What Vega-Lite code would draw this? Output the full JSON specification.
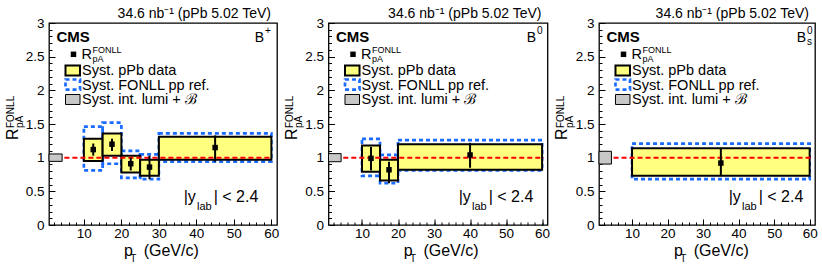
{
"$schema": "https://vega.github.io/schema/vega-lite/v6.json",
"padding": {"left": 3, "top": 6, "right": 0, "bottom": 0},
"bounds": "flush",
"spacing": 51.5,
"config": {
  "font": "Liberation Sans",
  "view": {"stroke": "black", "strokeWidth": 1.3},
  "axis": {"domain": false, "grid": false, "tickColor": "black", "tickWidth": 1, "labelColor": "black", "labelFont": "Liberation Sans", "labelFontSize": 13.5, "labelFlush": false, "labelOverlap": false},
  "text": {"align": "left", "baseline": "alphabetic", "color": "black", "fontSize": 14.5},
  "title": {"font": "Liberation Sans", "fontSize": 14, "fontWeight": "normal", "color": "black", "anchor": "end", "frame": "group", "baseline": "alphabetic", "dx": -6}
},
"datasets": {
  "bp": [
    {"lo": 10, "hi": 15, "x": 12.5, "y": 1.12, "elo": 1.03, "ehi": 1.21, "slo": 0.95, "shi": 1.28, "flo": 0.81, "fhi": 1.46},
    {"lo": 15, "hi": 20, "x": 17.5, "y": 1.20, "elo": 1.10, "ehi": 1.28, "slo": 1.03, "shi": 1.36, "flo": 0.91, "fhi": 1.52},
    {"lo": 20, "hi": 25, "x": 22.5, "y": 0.91, "elo": 0.81, "ehi": 1.00, "slo": 0.78, "shi": 1.03, "flo": 0.70, "fhi": 1.10},
    {"lo": 25, "hi": 30, "x": 27.5, "y": 0.86, "elo": 0.68, "ehi": 1.03, "slo": 0.73, "shi": 0.97, "flo": 0.68, "fhi": 1.05},
    {"lo": 30, "hi": 60, "x": 45, "y": 1.15, "elo": 0.94, "ehi": 1.33, "slo": 0.97, "shi": 1.31, "flo": 0.94, "fhi": 1.36}
  ],
  "b0": [
    {"lo": 10, "hi": 15, "x": 12.5, "y": 0.99, "elo": 0.81, "ehi": 1.16, "slo": 0.79, "shi": 1.18, "flo": 0.73, "fhi": 1.28},
    {"lo": 15, "hi": 20, "x": 17.5, "y": 0.82, "elo": 0.62, "ehi": 0.94, "slo": 0.66, "shi": 0.97, "flo": 0.62, "fhi": 1.04},
    {"lo": 20, "hi": 60, "x": 40, "y": 1.04, "elo": 0.85, "ehi": 1.22, "slo": 0.82, "shi": 1.20, "flo": 0.81, "fhi": 1.26}
  ],
  "bs": [
    {"lo": 10, "hi": 60, "x": 35, "y": 0.92, "elo": 0.73, "ehi": 1.14, "slo": 0.73, "shi": 1.14, "flo": 0.68, "fhi": 1.21}
  ],
  "lumi1": [{"lo": 0.7, "hi": 4.2, "ylo": 0.945, "yhi": 1.055}],
  "lumi2": [{"lo": 0.7, "hi": 4.2, "ylo": 0.94, "yhi": 1.06}],
  "lumi3": [{"lo": 0.7, "hi": 4.2, "ylo": 0.905, "yhi": 1.095}]
},
"hconcat": [
{
  "width": 228, "height": 202,
  "title": {"text": "34.6 nb⁻¹ (pPb 5.02 TeV)", "offset": -5},
  "data": {"values": [{}]},
  "layer": [
    {"data": {"name": "bp"}, "mark": {"type": "rect", "filled": false, "color": "#1a6cff", "strokeWidth": 2.7, "strokeDash": [4, 3]},
     "encoding": {
       "x": {"field": "lo", "type": "quantitative", "scale": {"domain": [0.7, 61.5], "nice": false},
             "axis": {"orient": "bottom", "title": null, "values": [10,20,30,40,50,60], "format": "d", "tickSize": -6, "labelPadding": 7}},
       "x2": {"field": "hi"},
       "y": {"field": "flo", "type": "quantitative", "scale": {"domain": [0, 3], "nice": false},
             "axis": {"orient": "left", "title": null, "values": [0,0.5,1,1.5,2,2.5,3], "format": "~g", "tickSize": -6, "labelPadding": 11}},
       "y2": {"field": "fhi"}}},
    {"data": {"name": "bp"}, "mark": {"type": "rect", "fill": "#ffff80", "stroke": "black", "strokeWidth": 2},
     "encoding": {
       "x": {"field": "lo", "type": "quantitative", "scale": {"domain": [0.7, 61.5], "nice": false},
             "axis": {"orient": "top", "offset": -202, "title": null, "labels": false, "values": [2,4,6,8,10,12,14,16,18,20,22,24,26,28,30,32,34,36,38,40,42,44,46,48,50,52,54,56,58,60], "tickSize": 3}},
       "x2": {"field": "hi"},
       "y": {"field": "slo", "type": "quantitative", "scale": {"domain": [0, 3], "nice": false},
             "axis": {"orient": "right", "offset": -228, "title": null, "labels": false, "values": [0,0.1,0.2,0.3,0.4,0.5,0.6,0.7,0.8,0.9,1,1.1,1.2,1.3,1.4,1.5,1.6,1.7,1.8,1.9,2,2.1,2.2,2.3,2.4,2.5,2.6,2.7,2.8,2.9,3], "tickSize": 3}},
       "y2": {"field": "shi"}}},
    {"data": {"name": "lumi1"}, "mark": {"type": "rect", "fill": "#c8c8c8", "stroke": "black", "strokeWidth": 1},
     "encoding": {"x": {"field": "lo", "type": "quantitative", "scale": {"domain": [0.7, 61.5], "nice": false}, "axis": null}, "x2": {"field": "hi"}, "y": {"field": "ylo", "type": "quantitative", "scale": {"domain": [0, 3], "nice": false}, "axis": null}, "y2": {"field": "yhi"}}},
    {"mark": {"type": "rule", "color": "#ff0000", "strokeWidth": 2, "strokeDash": [5, 3]},
     "encoding": {"x": {"datum": 4.8, "scale": {"domain": [0.7, 61.5], "nice": false}, "axis": null}, "x2": {"datum": 60.2}, "y": {"datum": 1, "scale": {"domain": [0, 3], "nice": false}, "axis": null}}},
    {"data": {"name": "bp"}, "mark": {"type": "rule", "color": "black", "strokeWidth": 2},
     "encoding": {"x": {"field": "x", "type": "quantitative", "scale": {"domain": [0.7, 61.5], "nice": false}, "axis": null}, "y": {"field": "elo", "type": "quantitative", "scale": {"domain": [0, 3], "nice": false}, "axis": null}, "y2": {"field": "ehi"}}},
    {"data": {"name": "bp"}, "mark": {"type": "point", "shape": "square", "filled": true, "color": "black", "size": 30, "opacity": 1},
     "encoding": {"x": {"field": "x", "type": "quantitative", "scale": {"domain": [0.7, 61.5], "nice": false}, "axis": null}, "y": {"field": "y", "type": "quantitative", "scale": {"domain": [0, 3], "nice": false}, "axis": null}}},
    {"mark": {"type": "text", "text": "CMS", "fontSize": 15, "fontWeight": "bold"}, "encoding": {"x": {"datum": 2.70, "axis": null}, "y": {"datum": 2.718, "axis": null}}},
    {"mark": {"type": "text", "text": "B", "align": "right", "fontSize": 14}, "encoding": {"x": {"datum": 58.03, "axis": null}, "y": {"datum": 2.722, "axis": null}}},
    {"mark": {"type": "text", "text": "+", "fontSize": 10}, "encoding": {"x": {"datum": 58.30, "axis": null}, "y": {"datum": 2.837, "axis": null}}},
    {"mark": {"type": "point", "shape": "square", "filled": true, "color": "black", "size": 30, "opacity": 1}, "encoding": {"x": {"datum": 7.23, "axis": null}, "y": {"datum": 2.535, "axis": null}}},
    {"mark": {"type": "text", "text": "R"}, "encoding": {"x": {"datum": 9.37, "axis": null}, "y": {"datum": 2.468, "axis": null}}},
    {"mark": {"type": "text", "text": "FONLL", "fontSize": 9}, "encoding": {"x": {"datum": 12.30, "axis": null}, "y": {"datum": 2.557, "axis": null}}},
    {"mark": {"type": "text", "text": "pA", "fontSize": 9}, "encoding": {"x": {"datum": 12.30, "axis": null}, "y": {"datum": 2.425, "axis": null}}},
    {"mark": {"type": "rect", "fill": "#ffff80", "stroke": "black", "strokeWidth": 2}, "encoding": {"x": {"datum": 5.10, "axis": null}, "x2": {"datum": 8.97}, "y": {"datum": 2.369, "axis": null}, "y2": {"datum": 2.220}}},
    {"mark": {"type": "rect", "filled": false, "color": "#1a6cff", "strokeWidth": 2.7, "strokeDash": [4, 3]}, "encoding": {"x": {"datum": 5.10, "axis": null}, "x2": {"datum": 8.97}, "y": {"datum": 2.161, "axis": null}, "y2": {"datum": 2.012}}},
    {"mark": {"type": "rect", "fill": "#c8c8c8", "stroke": "black", "strokeWidth": 1}, "encoding": {"x": {"datum": 5.10, "axis": null}, "x2": {"datum": 8.97}, "y": {"datum": 1.938, "axis": null}, "y2": {"datum": 1.790}}},
    {"mark": {"type": "text", "text": "Syst. pPb data"}, "encoding": {"x": {"datum": 9.50, "axis": null}, "y": {"datum": 2.228, "axis": null}}},
    {"mark": {"type": "text", "text": "Syst. FONLL pp ref."}, "encoding": {"x": {"datum": 9.50, "axis": null}, "y": {"datum": 2.012, "axis": null}}},
    {"mark": {"type": "text", "text": "Syst. int. lumi + ℬ"}, "encoding": {"x": {"datum": 9.50, "axis": null}, "y": {"datum": 1.790, "axis": null}}},
    {"mark": {"type": "text", "text": "|y", "fontSize": 16}, "encoding": {"x": {"datum": 36.62, "axis": null}, "y": {"datum": 0.3416, "axis": null}}},
    {"mark": {"type": "text", "text": "lab", "fontSize": 11}, "encoding": {"x": {"datum": 40.17, "axis": null}, "y": {"datum": 0.230, "axis": null}}},
    {"mark": {"type": "text", "text": "| < 2.4", "fontSize": 16}, "encoding": {"x": {"datum": 44.62, "axis": null}, "y": {"datum": 0.3416, "axis": null}}},
    {"mark": {"type": "text", "text": "p", "fontSize": 16}, "encoding": {"x": {"datum": 20.70, "axis": null}, "y": {"datum": -0.460, "axis": null}}},
    {"mark": {"type": "text", "text": "T", "fontSize": 10}, "encoding": {"x": {"datum": 22.38, "axis": null}, "y": {"datum": -0.545, "axis": null}}},
    {"mark": {"type": "text", "text": "(GeV/c)", "fontSize": 16}, "encoding": {"x": {"datum": 25.95, "axis": null}, "y": {"datum": -0.460, "axis": null}}},
    {"mark": {"type": "text", "text": "R", "fontSize": 16, "angle": 270}, "encoding": {"x": {"datum": -7.70, "axis": null}, "y": {"datum": 1.262, "axis": null}}},
    {"mark": {"type": "text", "text": "pA", "fontSize": 10, "angle": 270}, "encoding": {"x": {"datum": -6.23, "axis": null}, "y": {"datum": 1.44, "axis": null}}},
    {"mark": {"type": "text", "text": "FONLL", "fontSize": 10, "angle": 270}, "encoding": {"x": {"datum": -8.63, "axis": null}, "y": {"datum": 1.44, "axis": null}}}
  ]
},
{
  "width": 219, "height": 202,
  "title": {"text": "34.6 nb⁻¹ (pPb 5.02 TeV)", "offset": -5},
  "data": {"values": [{}]},
  "layer": [
    {"data": {"name": "b0"}, "mark": {"type": "rect", "filled": false, "color": "#1a6cff", "strokeWidth": 2.7, "strokeDash": [4, 3]},
     "encoding": {
       "x": {"field": "lo", "type": "quantitative", "scale": {"domain": [0.7, 61.5], "nice": false},
             "axis": {"orient": "bottom", "title": null, "values": [10,20,30,40,50,60], "format": "d", "tickSize": -6, "labelPadding": 7}},
       "x2": {"field": "hi"},
       "y": {"field": "flo", "type": "quantitative", "scale": {"domain": [0, 3], "nice": false},
             "axis": {"orient": "left", "title": null, "values": [0,0.5,1,1.5,2,2.5,3], "format": "~g", "tickSize": -6, "labelPadding": 11}},
       "y2": {"field": "fhi"}}},
    {"data": {"name": "b0"}, "mark": {"type": "rect", "fill": "#ffff80", "stroke": "black", "strokeWidth": 2},
     "encoding": {
       "x": {"field": "lo", "type": "quantitative", "scale": {"domain": [0.7, 61.5], "nice": false},
             "axis": {"orient": "top", "offset": -202, "title": null, "labels": false, "values": [2,4,6,8,10,12,14,16,18,20,22,24,26,28,30,32,34,36,38,40,42,44,46,48,50,52,54,56,58,60], "tickSize": 3}},
       "x2": {"field": "hi"},
       "y": {"field": "slo", "type": "quantitative", "scale": {"domain": [0, 3], "nice": false},
             "axis": {"orient": "right", "offset": -219, "title": null, "labels": false, "values": [0,0.1,0.2,0.3,0.4,0.5,0.6,0.7,0.8,0.9,1,1.1,1.2,1.3,1.4,1.5,1.6,1.7,1.8,1.9,2,2.1,2.2,2.3,2.4,2.5,2.6,2.7,2.8,2.9,3], "tickSize": 3}},
       "y2": {"field": "shi"}}},
    {"data": {"name": "lumi2"}, "mark": {"type": "rect", "fill": "#c8c8c8", "stroke": "black", "strokeWidth": 1},
     "encoding": {"x": {"field": "lo", "type": "quantitative", "scale": {"domain": [0.7, 61.5], "nice": false}, "axis": null}, "x2": {"field": "hi"}, "y": {"field": "ylo", "type": "quantitative", "scale": {"domain": [0, 3], "nice": false}, "axis": null}, "y2": {"field": "yhi"}}},
    {"mark": {"type": "rule", "color": "#ff0000", "strokeWidth": 2, "strokeDash": [5, 3]},
     "encoding": {"x": {"datum": 4.8, "scale": {"domain": [0.7, 61.5], "nice": false}, "axis": null}, "x2": {"datum": 60.4}, "y": {"datum": 1, "scale": {"domain": [0, 3], "nice": false}, "axis": null}}},
    {"data": {"name": "b0"}, "mark": {"type": "rule", "color": "black", "strokeWidth": 2},
     "encoding": {"x": {"field": "x", "type": "quantitative", "scale": {"domain": [0.7, 61.5], "nice": false}, "axis": null}, "y": {"field": "elo", "type": "quantitative", "scale": {"domain": [0, 3], "nice": false}, "axis": null}, "y2": {"field": "ehi"}}},
    {"data": {"name": "b0"}, "mark": {"type": "point", "shape": "square", "filled": true, "color": "black", "size": 30, "opacity": 1},
     "encoding": {"x": {"field": "x", "type": "quantitative", "scale": {"domain": [0.7, 61.5], "nice": false}, "axis": null}, "y": {"field": "y", "type": "quantitative", "scale": {"domain": [0, 3], "nice": false}, "axis": null}}},
    {"mark": {"type": "text", "text": "CMS", "fontSize": 15, "fontWeight": "bold"}, "encoding": {"x": {"datum": 2.78, "axis": null}, "y": {"datum": 2.718, "axis": null}}},
    {"mark": {"type": "text", "text": "B", "align": "right", "fontSize": 14}, "encoding": {"x": {"datum": 58.31, "axis": null}, "y": {"datum": 2.722, "axis": null}}},
    {"mark": {"type": "text", "text": "0", "fontSize": 10}, "encoding": {"x": {"datum": 58.59, "axis": null}, "y": {"datum": 2.837, "axis": null}}},
    {"mark": {"type": "point", "shape": "square", "filled": true, "color": "black", "size": 30, "opacity": 1}, "encoding": {"x": {"datum": 7.50, "axis": null}, "y": {"datum": 2.535, "axis": null}}},
    {"mark": {"type": "text", "text": "R"}, "encoding": {"x": {"datum": 9.72, "axis": null}, "y": {"datum": 2.468, "axis": null}}},
    {"mark": {"type": "text", "text": "FONLL", "fontSize": 9}, "encoding": {"x": {"datum": 12.78, "axis": null}, "y": {"datum": 2.557, "axis": null}}},
    {"mark": {"type": "text", "text": "pA", "fontSize": 9}, "encoding": {"x": {"datum": 12.78, "axis": null}, "y": {"datum": 2.425, "axis": null}}},
    {"mark": {"type": "rect", "fill": "#ffff80", "stroke": "black", "strokeWidth": 2}, "encoding": {"x": {"datum": 5.28, "axis": null}, "x2": {"datum": 9.31}, "y": {"datum": 2.369, "axis": null}, "y2": {"datum": 2.220}}},
    {"mark": {"type": "rect", "filled": false, "color": "#1a6cff", "strokeWidth": 2.7, "strokeDash": [4, 3]}, "encoding": {"x": {"datum": 5.28, "axis": null}, "x2": {"datum": 9.31}, "y": {"datum": 2.161, "axis": null}, "y2": {"datum": 2.012}}},
    {"mark": {"type": "rect", "fill": "#c8c8c8", "stroke": "black", "strokeWidth": 1}, "encoding": {"x": {"datum": 5.28, "axis": null}, "x2": {"datum": 9.31}, "y": {"datum": 1.938, "axis": null}, "y2": {"datum": 1.790}}},
    {"mark": {"type": "text", "text": "Syst. pPb data"}, "encoding": {"x": {"datum": 9.86, "axis": null}, "y": {"datum": 2.228, "axis": null}}},
    {"mark": {"type": "text", "text": "Syst. FONLL pp ref."}, "encoding": {"x": {"datum": 9.86, "axis": null}, "y": {"datum": 2.012, "axis": null}}},
    {"mark": {"type": "text", "text": "Syst. int. lumi + ℬ"}, "encoding": {"x": {"datum": 9.86, "axis": null}, "y": {"datum": 1.790, "axis": null}}},
    {"mark": {"type": "text", "text": "|y", "fontSize": 16}, "encoding": {"x": {"datum": 36.85, "axis": null}, "y": {"datum": 0.3416, "axis": null}}},
    {"mark": {"type": "text", "text": "lab", "fontSize": 11}, "encoding": {"x": {"datum": 40.54, "axis": null}, "y": {"datum": 0.230, "axis": null}}},
    {"mark": {"type": "text", "text": "| < 2.4", "fontSize": 16}, "encoding": {"x": {"datum": 45.18, "axis": null}, "y": {"datum": 0.3416, "axis": null}}},
    {"mark": {"type": "text", "text": "p", "fontSize": 16}, "encoding": {"x": {"datum": 21.58, "axis": null}, "y": {"datum": -0.460, "axis": null}}},
    {"mark": {"type": "text", "text": "T", "fontSize": 10}, "encoding": {"x": {"datum": 23.33, "axis": null}, "y": {"datum": -0.545, "axis": null}}},
    {"mark": {"type": "text", "text": "(GeV/c)", "fontSize": 16}, "encoding": {"x": {"datum": 27.05, "axis": null}, "y": {"datum": -0.460, "axis": null}}},
    {"mark": {"type": "text", "text": "R", "fontSize": 16, "angle": 270}, "encoding": {"x": {"datum": -8.05, "axis": null}, "y": {"datum": 1.262, "axis": null}}},
    {"mark": {"type": "text", "text": "pA", "fontSize": 10, "angle": 270}, "encoding": {"x": {"datum": -6.52, "axis": null}, "y": {"datum": 1.44, "axis": null}}},
    {"mark": {"type": "text", "text": "FONLL", "fontSize": 10, "angle": 270}, "encoding": {"x": {"datum": -9.02, "axis": null}, "y": {"datum": 1.44, "axis": null}}}
  ]
},
{
  "width": 216, "height": 202,
  "title": {"text": "34.6 nb⁻¹ (pPb 5.02 TeV)", "offset": -5},
  "data": {"values": [{}]},
  "layer": [
    {"data": {"name": "bs"}, "mark": {"type": "rect", "filled": false, "color": "#1a6cff", "strokeWidth": 2.7, "strokeDash": [4, 3]},
     "encoding": {
       "x": {"field": "lo", "type": "quantitative", "scale": {"domain": [0.7, 61.5], "nice": false},
             "axis": {"orient": "bottom", "title": null, "values": [10,20,30,40,50,60], "format": "d", "tickSize": -6, "labelPadding": 7}},
       "x2": {"field": "hi"},
       "y": {"field": "flo", "type": "quantitative", "scale": {"domain": [0, 3], "nice": false},
             "axis": {"orient": "left", "title": null, "values": [0,0.5,1,1.5,2,2.5,3], "format": "~g", "tickSize": -6, "labelPadding": 11}},
       "y2": {"field": "fhi"}}},
    {"data": {"name": "bs"}, "mark": {"type": "rect", "fill": "#ffff80", "stroke": "black", "strokeWidth": 2},
     "encoding": {
       "x": {"field": "lo", "type": "quantitative", "scale": {"domain": [0.7, 61.5], "nice": false},
             "axis": {"orient": "top", "offset": -202, "title": null, "labels": false, "values": [2,4,6,8,10,12,14,16,18,20,22,24,26,28,30,32,34,36,38,40,42,44,46,48,50,52,54,56,58,60], "tickSize": 3}},
       "x2": {"field": "hi"},
       "y": {"field": "slo", "type": "quantitative", "scale": {"domain": [0, 3], "nice": false},
             "axis": {"orient": "right", "offset": -216, "title": null, "labels": false, "values": [0,0.1,0.2,0.3,0.4,0.5,0.6,0.7,0.8,0.9,1,1.1,1.2,1.3,1.4,1.5,1.6,1.7,1.8,1.9,2,2.1,2.2,2.3,2.4,2.5,2.6,2.7,2.8,2.9,3], "tickSize": 3}},
       "y2": {"field": "shi"}}},
    {"data": {"name": "lumi3"}, "mark": {"type": "rect", "fill": "#c8c8c8", "stroke": "black", "strokeWidth": 1},
     "encoding": {"x": {"field": "lo", "type": "quantitative", "scale": {"domain": [0.7, 61.5], "nice": false}, "axis": null}, "x2": {"field": "hi"}, "y": {"field": "ylo", "type": "quantitative", "scale": {"domain": [0, 3], "nice": false}, "axis": null}, "y2": {"field": "yhi"}}},
    {"mark": {"type": "rule", "color": "#ff0000", "strokeWidth": 2, "strokeDash": [5, 3]},
     "encoding": {"x": {"datum": 4.8, "scale": {"domain": [0.7, 61.5], "nice": false}, "axis": null}, "x2": {"datum": 60.6}, "y": {"datum": 1, "scale": {"domain": [0, 3], "nice": false}, "axis": null}}},
    {"data": {"name": "bs"}, "mark": {"type": "rule", "color": "black", "strokeWidth": 2},
     "encoding": {"x": {"field": "x", "type": "quantitative", "scale": {"domain": [0.7, 61.5], "nice": false}, "axis": null}, "y": {"field": "elo", "type": "quantitative", "scale": {"domain": [0, 3], "nice": false}, "axis": null}, "y2": {"field": "ehi"}}},
    {"data": {"name": "bs"}, "mark": {"type": "point", "shape": "square", "filled": true, "color": "black", "size": 30, "opacity": 1},
     "encoding": {"x": {"field": "x", "type": "quantitative", "scale": {"domain": [0.7, 61.5], "nice": false}, "axis": null}, "y": {"field": "y", "type": "quantitative", "scale": {"domain": [0, 3], "nice": false}, "axis": null}}},
    {"mark": {"type": "text", "text": "CMS", "fontSize": 15, "fontWeight": "bold"}, "encoding": {"x": {"datum": 2.81, "axis": null}, "y": {"datum": 2.718, "axis": null}}},
    {"mark": {"type": "text", "text": "B", "align": "right", "fontSize": 14}, "encoding": {"x": {"datum": 58.96, "axis": null}, "y": {"datum": 2.722, "axis": null}}},
    {"mark": {"type": "text", "text": "0", "fontSize": 10}, "encoding": {"x": {"datum": 59.24, "axis": null}, "y": {"datum": 2.837, "axis": null}}},
    {"mark": {"type": "text", "text": "s", "fontSize": 10}, "encoding": {"x": {"datum": 59.24, "axis": null}, "y": {"datum": 2.673, "axis": null}}},
    {"mark": {"type": "point", "shape": "square", "filled": true, "color": "black", "size": 30, "opacity": 1}, "encoding": {"x": {"datum": 7.60, "axis": null}, "y": {"datum": 2.535, "axis": null}}},
    {"mark": {"type": "text", "text": "R"}, "encoding": {"x": {"datum": 9.85, "axis": null}, "y": {"datum": 2.468, "axis": null}}},
    {"mark": {"type": "text", "text": "FONLL", "fontSize": 9}, "encoding": {"x": {"datum": 12.94, "axis": null}, "y": {"datum": 2.557, "axis": null}}},
    {"mark": {"type": "text", "text": "pA", "fontSize": 9}, "encoding": {"x": {"datum": 12.94, "axis": null}, "y": {"datum": 2.425, "axis": null}}},
    {"mark": {"type": "rect", "fill": "#ffff80", "stroke": "black", "strokeWidth": 2}, "encoding": {"x": {"datum": 5.34, "axis": null}, "x2": {"datum": 9.42}, "y": {"datum": 2.369, "axis": null}, "y2": {"datum": 2.220}}},
    {"mark": {"type": "rect", "filled": false, "color": "#1a6cff", "strokeWidth": 2.7, "strokeDash": [4, 3]}, "encoding": {"x": {"datum": 5.34, "axis": null}, "x2": {"datum": 9.42}, "y": {"datum": 2.161, "axis": null}, "y2": {"datum": 2.012}}},
    {"mark": {"type": "rect", "fill": "#c8c8c8", "stroke": "black", "strokeWidth": 1}, "encoding": {"x": {"datum": 5.34, "axis": null}, "x2": {"datum": 9.42}, "y": {"datum": 1.938, "axis": null}, "y2": {"datum": 1.790}}},
    {"mark": {"type": "text", "text": "Syst. pPb data"}, "encoding": {"x": {"datum": 9.99, "axis": null}, "y": {"datum": 2.228, "axis": null}}},
    {"mark": {"type": "text", "text": "Syst. FONLL pp ref."}, "encoding": {"x": {"datum": 9.99, "axis": null}, "y": {"datum": 2.012, "axis": null}}},
    {"mark": {"type": "text", "text": "Syst. int. lumi + ℬ"}, "encoding": {"x": {"datum": 9.99, "axis": null}, "y": {"datum": 1.790, "axis": null}}},
    {"mark": {"type": "text", "text": "|y", "fontSize": 16}, "encoding": {"x": {"datum": 37.20, "axis": null}, "y": {"datum": 0.3416, "axis": null}}},
    {"mark": {"type": "text", "text": "lab", "fontSize": 11}, "encoding": {"x": {"datum": 40.95, "axis": null}, "y": {"datum": 0.230, "axis": null}}},
    {"mark": {"type": "text", "text": "| < 2.4", "fontSize": 16}, "encoding": {"x": {"datum": 45.65, "axis": null}, "y": {"datum": 0.3416, "axis": null}}},
    {"mark": {"type": "text", "text": "p", "fontSize": 16}, "encoding": {"x": {"datum": 21.81, "axis": null}, "y": {"datum": -0.460, "axis": null}}},
    {"mark": {"type": "text", "text": "T", "fontSize": 10}, "encoding": {"x": {"datum": 23.58, "axis": null}, "y": {"datum": -0.545, "axis": null}}},
    {"mark": {"type": "text", "text": "(GeV/c)", "fontSize": 16}, "encoding": {"x": {"datum": 27.35, "axis": null}, "y": {"datum": -0.460, "axis": null}}},
    {"mark": {"type": "text", "text": "R", "fontSize": 16, "angle": 270}, "encoding": {"x": {"datum": -8.17, "axis": null}, "y": {"datum": 1.262, "axis": null}}},
    {"mark": {"type": "text", "text": "pA", "fontSize": 10, "angle": 270}, "encoding": {"x": {"datum": -6.62, "axis": null}, "y": {"datum": 1.44, "axis": null}}},
    {"mark": {"type": "text", "text": "FONLL", "fontSize": 10, "angle": 270}, "encoding": {"x": {"datum": -9.15, "axis": null}, "y": {"datum": 1.44, "axis": null}}}
  ]
}
]
}
